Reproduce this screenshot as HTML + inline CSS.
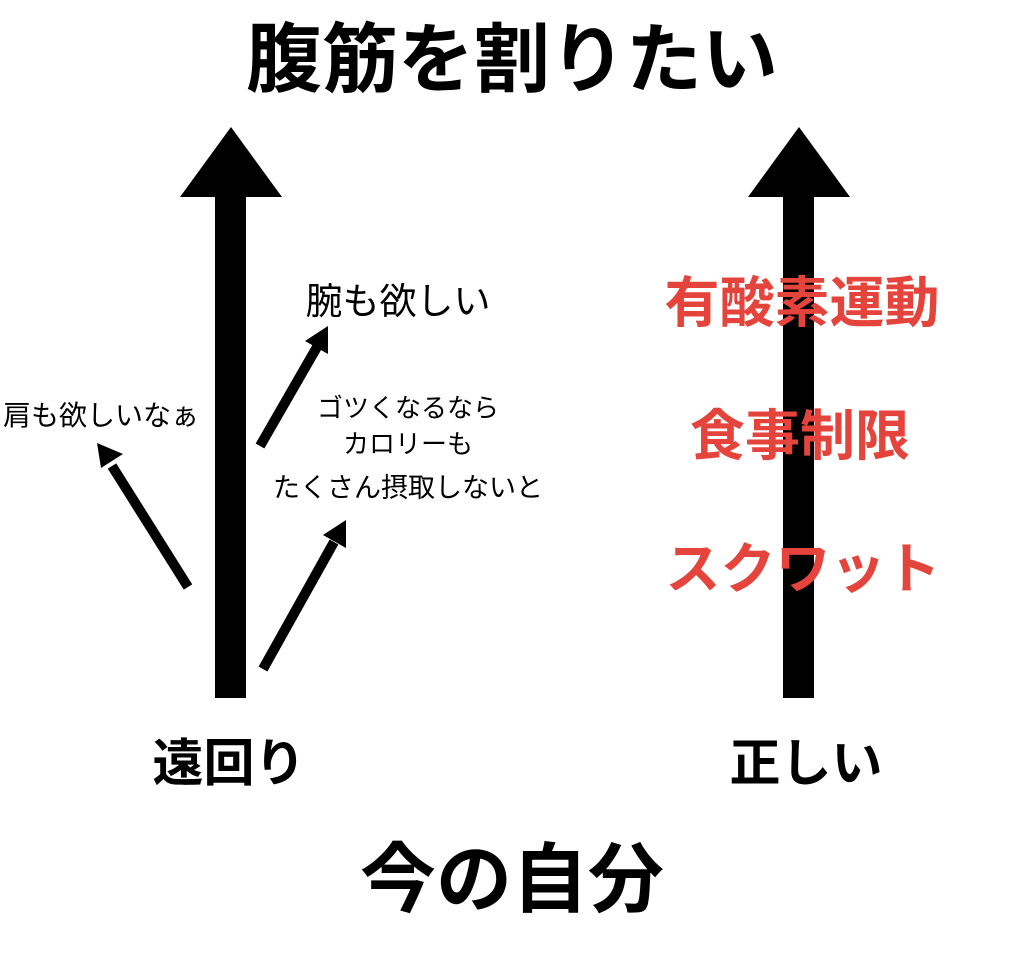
<!DOCTYPE html>
<html><head><meta charset="utf-8"><style>
html,body{margin:0;padding:0;background:#fff;}
svg{display:block;}
text{font-family:"Liberation Sans","Noto Sans CJK JP",sans-serif;}
.b{font-weight:bold;}
</style></head><body>
<svg width="1024" height="953" viewBox="0 0 1024 953" xmlns="http://www.w3.org/2000/svg">
<text x="512" y="86" font-size="76" class="b" text-anchor="middle" fill="#000">腹筋を割りたい</text>
<rect x="215" y="190" width="31" height="508" fill="#000"/>
<polygon points="180,197 282,197 231,127" fill="#000"/>
<rect x="783" y="190" width="31" height="508" fill="#000"/>
<polygon points="748,197 850,197 799,127" fill="#000"/>
<g stroke="#000" stroke-width="10" fill="#000">
<line x1="188" y1="587" x2="112" y2="466"/>
<line x1="260" y1="446" x2="317" y2="347"/>
<line x1="263" y1="669" x2="334" y2="542"/>
</g>
<polygon points="97,443 123,454 101,468" fill="#000"/>
<polygon points="328,326 328,354 305,341" fill="#000"/>
<polygon points="346,520 346,548 323,535" fill="#000"/>
<text x="398" y="314" font-size="37" text-anchor="middle" fill="#000">腕も欲しい</text>
<text x="101" y="425" font-size="28" text-anchor="middle" fill="#000">肩も欲しいなぁ</text>
<text x="408" y="417" font-size="26" text-anchor="middle" fill="#000">ゴツくなるなら</text>
<text x="408" y="453" font-size="26" text-anchor="middle" fill="#000">カロリーも</text>
<text x="408" y="497" font-size="27" text-anchor="middle" fill="#000">たくさん摂取しないと</text>
<g fill="#e5443c" font-size="55" text-anchor="middle">
<text x="802" y="322" class="b">有酸素運動</text>
<text x="800" y="455" class="b">食事制限</text>
<text x="803" y="588" class="b">スクワット</text>
</g>
<text x="229" y="781" font-size="51" class="b" text-anchor="middle" fill="#000">遠回り</text>
<text x="806" y="781" font-size="51" class="b" text-anchor="middle" fill="#000">正しい</text>
<text x="512" y="906" font-size="76" class="b" text-anchor="middle" fill="#000">今の自分</text>
</svg>
</body></html>
